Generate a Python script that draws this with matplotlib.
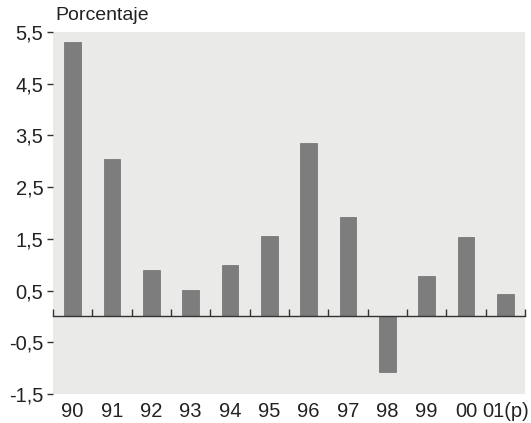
import numpy as np
import matplotlib
matplotlib.use('Agg')
import matplotlib.pyplot as plt

plt.rcParams['font.family'] = ['Liberation Sans', 'DejaVu Sans']

# variacion anual, en porcentaje
years = ['90', '91', '92', '93', '94', '95', '96', '97', '98', '99', '00', '01(p)']
values = [5.3, 3.05, 0.9, 0.52, 1.0, 1.55, 3.35, 1.92, -1.07, 0.78, 1.53, 0.43]
yticks = [5.5, 4.5, 3.5, 2.5, 1.5, 0.5, -0.5, -1.5]
ytick_labels = ['5,5', '4,5', '3,5', '2,5', '1,5', '0,5', '-0,5', '-1,5']

fig = plt.figure(figsize=(5.31, 4.23), dpi=100)
ax = fig.add_axes([53 / 531, 1 - 394 / 423, 472 / 531, 362 / 423])
ax.set_facecolor('#eaeae8')

x = np.arange(len(years)) + 0.5
ax.bar(x, values, width=0.42, color='#7d7d7d', edgecolor='#6e6e6e', linewidth=0.5, zorder=2)

ax.set_xlim(0, len(years))
ax.set_ylim(-1.5, 5.5)

# zero line carries the tick marks between categories
for s in ['top', 'right', 'left']:
    ax.spines[s].set_visible(False)
ax.spines['bottom'].set_position(('data', 0))
ax.spines['bottom'].set_color('#333333')
ax.spines['bottom'].set_linewidth(1.0)
ax.spines['bottom'].set_zorder(3)
ax.set_xticks(np.arange(len(years) + 1))
ax.tick_params(axis='x', direction='in', length=5, width=1, color='#333333',
               labelbottom=False)
for xi, lab in zip(x, years):
    ax.text(xi, -0.022, lab, transform=ax.get_xaxis_transform(), ha='center', va='top',
            fontsize=14.5, color='#222222')

ax.set_yticks(yticks)
ax.set_yticklabels(ytick_labels, fontsize=14.5, color='#222222')
ax.tick_params(axis='y', direction='out', length=4, width=1, color='#333333', pad=3)

fig.text(55 / 531, 1 - 15 / 423, 'Porcentaje', ha='left', va='center', fontsize=14, color='#222222')

fig.savefig('out.png', dpi=100, facecolor='white')
